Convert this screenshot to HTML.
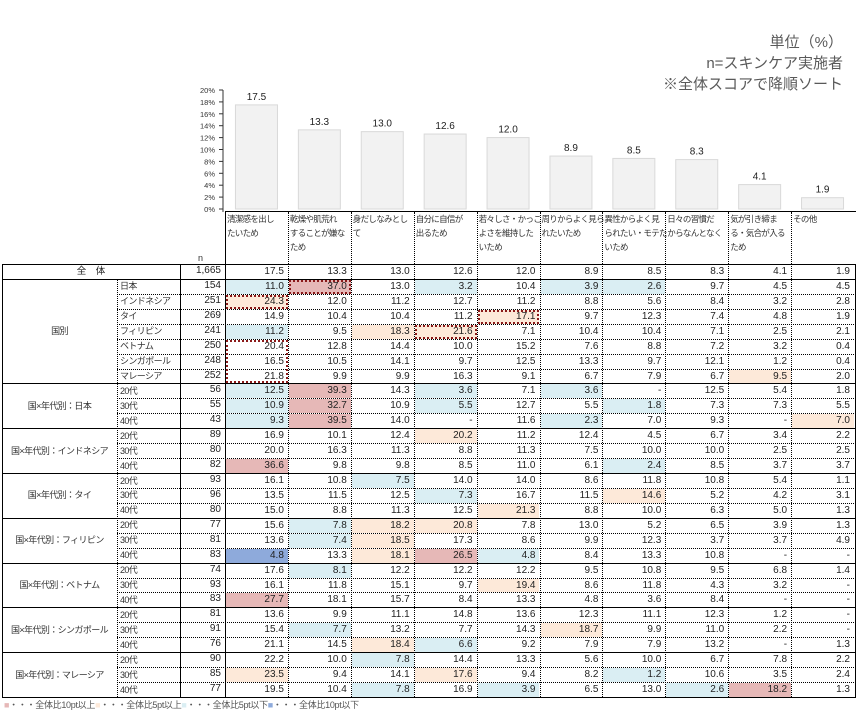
<!DOCTYPE html>
<html><head><meta charset="utf-8">
<style>
html,body{margin:0;padding:0;background:#fff;}
body{width:857px;height:717px;position:relative;overflow:hidden;font-family:"Liberation Sans","Noto Sans CJK JP",sans-serif;color:#222;}
.a{position:absolute;box-sizing:border-box;}
.t{position:absolute;white-space:nowrap;font-size:9.5px;line-height:12px;}
.note{position:absolute;right:14px;font-size:15px;color:#595959;white-space:nowrap;text-align:right;}
</style></head>
<body>
<div class="note" style="top:31px">単位（%）</div>
<div class="note" style="top:52px">n=スキンケア実施者</div>
<div class="note" style="top:73px">※全体スコアで降順ソート</div>
<svg id="chart" class="a" style="left:0;top:0" width="857" height="215"></svg>
<div id="tbl"></div>
<div class="t" style="left:4px;top:699px;font-size:9px;letter-spacing:-0.3px;color:#555"><span style="color:#e6b8b7">■</span>・・・全体比10pt以上<span style="color:#fde9d9">■</span>・・・全体比5pt以上<span style="color:#daeef3">■</span>・・・全体比5pt以下<span style="color:#8eaadb">■</span>・・・全体比10pt以下</div>
<script>
const categories=["清潔感を出し|たいため","乾燥や肌荒れ|することが嫌な|ため","身だしなみとし|て","自分に自信が|出るため","若々しさ・かっこ|よさを維持した|いため","周りからよく見ら|れたいため","異性からよく見|られたい・モテた|いため","日々の習慣だ|からなんとなく","気が引き締ま|る・気合が入る|ため","その他"];
const overall=[17.5,13.3,13.0,12.6,12.0,8.9,8.5,8.3,4.1,1.9];
const yTicks=[0,2,4,6,8,10,12,14,16,18,20];
const groupLabels=["国別","国×年代別：日本","国×年代別：インドネシア","国×年代別：タイ","国×年代別：フィリピン","国×年代別：ベトナム","国×年代別：シンガポール","国×年代別：マレーシア"];
const subLabels=[["日本","インドネシア","タイ","フィリピン","ベトナム","シンガポール","マレーシア"],["20代","30代","40代"],["20代","30代","40代"],["20代","30代","40代"],["20代","30代","40代"],["20代","30代","40代"],["20代","30代","40代"],["20代","30代","40代"]];
const nValues=["1,665","154","251","269","241","250","248","252","56","55","43","89","80","82","93","96","80","77","81","83","74","93","83","81","91","76","90","85","77"];
const rowValues=[
[17.5,13.3,13.0,12.6,12.0,8.9,8.5,8.3,4.1,1.9],
[11.0,37.0,13.0,3.2,10.4,3.9,2.6,9.7,4.5,4.5],
[24.3,12.0,11.2,12.7,11.2,8.8,5.6,8.4,3.2,2.8],
[14.9,10.4,10.4,11.2,17.1,9.7,12.3,7.4,4.8,1.9],
[11.2,9.5,18.3,21.6,7.1,10.4,10.4,7.1,2.5,2.1],
[20.4,12.8,14.4,10.0,15.2,7.6,8.8,7.2,3.2,0.4],
[16.5,10.5,14.1,9.7,12.5,13.3,9.7,12.1,1.2,0.4],
[21.8,9.9,9.9,16.3,9.1,6.7,7.9,6.7,9.5,2.0],
[12.5,39.3,14.3,3.6,7.1,3.6,null,12.5,5.4,1.8],
[10.9,32.7,10.9,5.5,12.7,5.5,1.8,7.3,7.3,5.5],
[9.3,39.5,14.0,null,11.6,2.3,7.0,9.3,null,7.0],
[16.9,10.1,12.4,20.2,11.2,12.4,4.5,6.7,3.4,2.2],
[20.0,16.3,11.3,8.8,11.3,7.5,10.0,10.0,2.5,2.5],
[36.6,9.8,9.8,8.5,11.0,6.1,2.4,8.5,3.7,3.7],
[16.1,10.8,7.5,14.0,14.0,8.6,11.8,10.8,5.4,1.1],
[13.5,11.5,12.5,7.3,16.7,11.5,14.6,5.2,4.2,3.1],
[15.0,8.8,11.3,12.5,21.3,8.8,10.0,6.3,5.0,1.3],
[15.6,7.8,18.2,20.8,7.8,13.0,5.2,6.5,3.9,1.3],
[13.6,7.4,18.5,17.3,8.6,9.9,12.3,3.7,3.7,4.9],
[4.8,13.3,18.1,26.5,4.8,8.4,13.3,10.8,null,null],
[17.6,8.1,12.2,12.2,12.2,9.5,10.8,9.5,6.8,1.4],
[16.1,11.8,15.1,9.7,19.4,8.6,11.8,4.3,3.2,null],
[27.7,18.1,15.7,8.4,13.3,4.8,3.6,8.4,null,null],
[13.6,9.9,11.1,14.8,13.6,12.3,11.1,12.3,1.2,null],
[15.4,7.7,13.2,7.7,14.3,18.7,9.9,11.0,2.2,null],
[21.1,14.5,18.4,6.6,9.2,7.9,7.9,13.2,null,1.3],
[22.2,10.0,7.8,14.4,13.3,5.6,10.0,6.7,7.8,2.2],
[23.5,9.4,14.1,17.6,9.4,8.2,1.2,10.6,3.5,2.4],
[19.5,10.4,7.8,16.9,3.9,6.5,13.0,2.6,18.2,1.3]];

const X0=225, CW=62.9, Y0=209, PX=5.95;
const xCol=i=>X0+i*CW;
const yv=v=>Y0-v*PX;
const NS="http://www.w3.org/2000/svg";
const svg=document.getElementById('chart');
function sv(tag,attrs){const e=document.createElementNS(NS,tag);for(const k in attrs)e.setAttribute(k,attrs[k]);svg.appendChild(e);return e;}
let ax=sv('line',{x1:223,y1:yv(20),x2:223,y2:Y0+3,stroke:'#333','stroke-width':1});


yTicks.forEach(t=>{
  const y=yv(t);
  const tl=sv('line',{x1:219,y1:y,x2:223,y2:y,stroke:'#333','stroke-width':1});
  
  
  const tx=sv('text',{x:215,y:y+3,'font-size':7.5,'text-anchor':'end',fill:'#333','font-family':'Liberation Sans, sans-serif'});
  tx.textContent=t+'%';
  
  
});
overall.forEach((v,i)=>{
  const cx=xCol(i)+CW/2;
  const r=sv('rect',{x:cx-21,y:yv(v),width:42,height:Y0-yv(v),fill:'#f2f2f2',stroke:'#d9d9d9','stroke-width':1});
  
  
  const l=sv('text',{x:cx,y:yv(v)-5,'font-size':10,'text-anchor':'middle',fill:'#222','font-family':'Liberation Sans, sans-serif'});
  l.textContent=v.toFixed(1);
  
  
});

const tbl=document.getElementById('tbl');
function div(cls,style,txt){const d=document.createElement('div');d.className=cls;d.style.cssText=style;if(txt!=null)d.textContent=txt;tbl.appendChild(d);return d;}
const hb=div('a','left:225px;top:211px;width:631px;height:1px;background:#000');


const hl=div('a','left:225px;top:211px;width:1px;height:53px;background:#000');


categories.forEach((c,i)=>{
  const h=div('t','left:'+(xCol(i)+2)+'px;top:212px;line-height:14px;font-size:8.5px;letter-spacing:-0.7px;color:#333');
  h.innerHTML=c.split('|').join('<br>');
  
  
  if(i>0){const v=div('a','left:'+xCol(i)+'px;top:212px;width:0;height:52px;border-left:1px dotted #000');
  
  }
});
const nh=div('t','left:198px;top:252px;font-size:9px;color:#333','n');



const TY=264, RH=14.93, N=29;
const ry=r=>TY+r*RH;
const ob=div('a','left:2px;top:'+TY+'px;width:854px;height:'+(N*RH+1)+'px;border:1px solid #000');


const groupStart=[1,8,11,14,17,20,23,26];
function bg(v,o){if(v==null)return '';const d=v-o;if(d>=10)return '#e6b8b7';if(d>=5)return '#fde9d9';if(d<=-10)return '#8eaadb';if(d<=-5)return '#daeef3';return '';}
for(let r=0;r<N;r++){
  const y=ry(r);
  rowValues[r].forEach((v,i)=>{
    const b=bg(v,overall[i]);
    const c=div('a','left:'+(xCol(i)+1)+'px;top:'+(y+1)+'px;width:'+(CW-1)+'px;height:'+(RH-1)+'px;'+(b&&r>0?'background:'+b+';':'')+'font-size:10px;line-height:'+(RH-1)+'px;text-align:right;padding-right:4px;white-space:nowrap',v==null?'-':v.toFixed(1));
    
    
  });
  const n=div('a','left:181px;top:'+y+'px;width:44px;height:'+RH+'px;font-size:10px;line-height:'+RH+'px;text-align:right;padding-right:4px',nValues[r]);
  
  
  if(r>0){
    const solid=groupStart.includes(r);
    const ln=div('a','left:'+(solid?2:117)+'px;top:'+y+'px;width:'+(solid?854:739)+'px;height:0;border-top:1px '+(solid?'solid':'dotted')+' #000');
    
    
  }
}
let rr=1;
subLabels.forEach((g,gi)=>{
  const gl=div('t','left:2px;width:115px;text-align:center;top:'+(ry(rr)+g.length*RH/2-6)+'px;font-size:9px;letter-spacing:-0.6px;color:#333',groupLabels[gi]);
  
  
  g.forEach(s=>{
    const sl=div('t','left:120px;top:'+(ry(rr)+1.5)+'px;font-size:9px;letter-spacing:-0.6px;color:#333',s);
    
    
    rr++;
  });
});
const tot=div('t','left:2px;width:178px;text-align:center;top:'+(TY+1.5)+'px;font-size:9.5px','全　体');


const sub=div('a','left:117px;top:'+ry(1)+'px;width:0;height:'+(28*RH)+'px;border-left:1px dotted #000');


[180,225].forEach(x=>{
  const v=div('a','left:'+x+'px;top:'+TY+'px;width:1px;height:'+(N*RH)+'px;background:#000');
  
  
});
for(let i=1;i<10;i++){
  const v=div('a','left:'+xCol(i)+'px;top:'+TY+'px;width:0;height:'+(N*RH)+'px;border-left:1px dotted #000');
  
  
}
[[1,1,1],[2,0,1],[3,4,1],[4,3,1],[5,0,3]].forEach(([r,c,h])=>{
  const b=div('a','left:'+(xCol(c)+1)+'px;top:'+(ry(r)+1)+'px;width:'+(CW-1)+'px;height:'+(h*RH-1)+'px;border:2px dotted #8b1a1a');
  
  
});
</script>
</body></html>
